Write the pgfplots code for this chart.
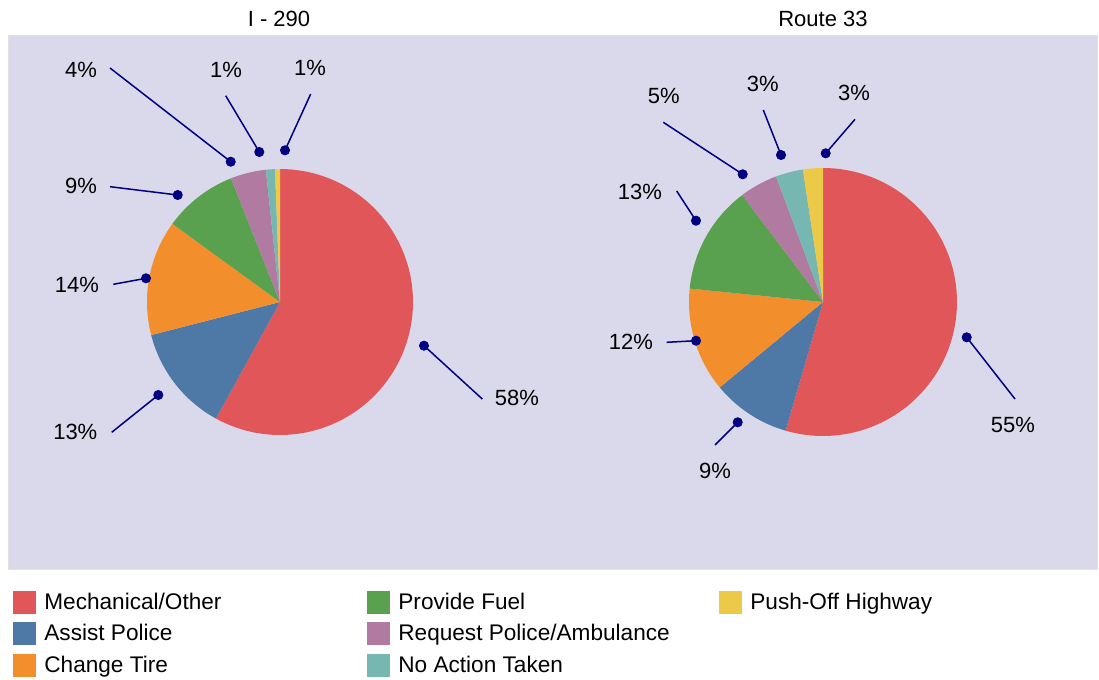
\documentclass[border=0pt]{standalone}
\usepackage{pgfplots}
\pgfplotsset{compat=1.18}
\usepackage{fontspec}
\setmainfont{Liberation Sans}
\definecolor{mech}{HTML}{E15759}
\definecolor{assist}{HTML}{4E79A7}
\definecolor{tire}{HTML}{F28E2B}
\definecolor{fuel}{HTML}{59A14F}
\definecolor{req}{HTML}{B07AA1}
\definecolor{noact}{HTML}{76B7B2}
\definecolor{push}{HTML}{EDC948}
\definecolor{panel}{HTML}{D9D9EB}
\definecolor{leadc}{HTML}{000080}
% slice: cx, cy, r, start %, end %, colour (clockwise from the top)
\newcommand{\slice}[6]{%
  \pgfmathsetmacro\aA{3.6*#4}%
  \pgfmathsetmacro\aB{3.6*#5}%
  \addplot[draw=none, fill=#6, domain=\aA:\aB, samples=90, variable=\tt]
    ({#1+#3*sin(\tt)}, {#2-#3*cos(\tt)}) -- (axis cs:#1,#2) -- cycle;
}
% leader: dot x, dot y, end x, end y
\newcommand{\leader}[4]{%
  \addplot[leadc, line width=0.75pt] coordinates {(#1,#2) (#3,#4)};
  \addplot[only marks, mark=*, mark size=2.3pt, leadc] coordinates {(#1,#2)};
}
\newcommand{\legitem}[4]{%
  \node[fill=#3, minimum size=11.5pt, inner sep=0pt] at (axis cs:#1,#2) {};
  \node[anchor=mid west, inner sep=0pt, font=\fontsize{11.3}{13}\selectfont] at (axis cs:#1+19.5,#2+2) {#4};
}
\newcommand{\lab}[3]{\node[anchor=mid, inner sep=0pt, font=\fontsize{11}{13}\selectfont] at (axis cs:#1,#2+2) {#3};}
\begin{document}
\begin{tikzpicture}
\begin{axis}[x=0.5pt, y=0.5pt, xmin=0, xmax=1099, ymin=0, ymax=680,
  y dir=reverse, hide axis, scale only axis, clip=false]
\addplot[fill=white, draw=none] coordinates {(0,0) (1099,0) (1099,680) (0,680)} -- cycle;
\addplot[fill=panel, draw=black!12, line width=0.5pt] coordinates {(8,35) (1097,35) (1097,569) (8,569)} -- cycle;

% I - 290
\slice{280}{302}{133}{0}{58}{mech}
\slice{280}{302}{133}{58}{71}{assist}
\slice{280}{302}{133}{71}{85}{tire}
\slice{280}{302}{133}{85}{94}{fuel}
\slice{280}{302}{133}{94}{98.3}{req}
\slice{280}{302}{133}{98.3}{99.4}{noact}
\slice{280}{302}{133}{99.4}{100}{push}

% Route 33
\slice{823}{302}{134}{0}{54.5}{mech}
\slice{823}{302}{134}{54.5}{64}{assist}
\slice{823}{302}{134}{64}{76.6}{tire}
\slice{823}{302}{134}{76.6}{89.7}{fuel}
\slice{823}{302}{134}{89.7}{94.3}{req}
\slice{823}{302}{134}{94.3}{97.6}{noact}
\slice{823}{302}{134}{97.6}{100}{push}

% leaders I - 290
\leader{424}{345.7}{482.3}{399}
\leader{158.3}{395}{111.7}{432.3}
\leader{146}{278.3}{113.3}{284.3}
\leader{177.7}{195}{110}{186.7}
\leader{230.7}{161.7}{110}{68}
\leader{259.3}{152}{225.7}{95.7}
\leader{285}{150.3}{310.7}{94}

% leaders Route 33
\leader{966.7}{337.3}{1015}{399}
\leader{737.7}{422.3}{715}{445}
\leader{696}{340.7}{666.7}{342.3}
\leader{696}{220.7}{676.7}{191}
\leader{742.7}{174.3}{663.3}{122.3}
\leader{781}{155}{763.3}{110}
\leader{825.7}{153.3}{855}{119.3}

\lab{279}{19}{I - 290}
\lab{823}{19}{Route 33}

\lab{517}{398}{58\%}
\lab{75.3}{432.3}{13\%}
\lab{77}{285}{14\%}
\lab{81}{186.7}{9\%}
\lab{81}{70}{4\%}
\lab{226}{70}{1\%}
\lab{310}{68}{1\%}

\lab{1013}{425}{55\%}
\lab{715}{471.7}{9\%}
\lab{631}{342.7}{12\%}
\lab{640}{192}{13\%}
\lab{663.8}{96.7}{5\%}
\lab{762.7}{84}{3\%}
\lab{854}{93.3}{3\%}

% legend
\legitem{24.5}{602}{mech}{Mechanical/Other}
\legitem{24.5}{633}{assist}{Assist Police}
\legitem{24.5}{665}{tire}{Change Tire}
\legitem{378.5}{602}{fuel}{Provide Fuel}
\legitem{378.5}{633}{req}{Request Police/Ambulance}
\legitem{378.5}{665}{noact}{No Action Taken}
\legitem{730.5}{602}{push}{Push-Off Highway}
\end{axis}
\end{tikzpicture}
\end{document}
